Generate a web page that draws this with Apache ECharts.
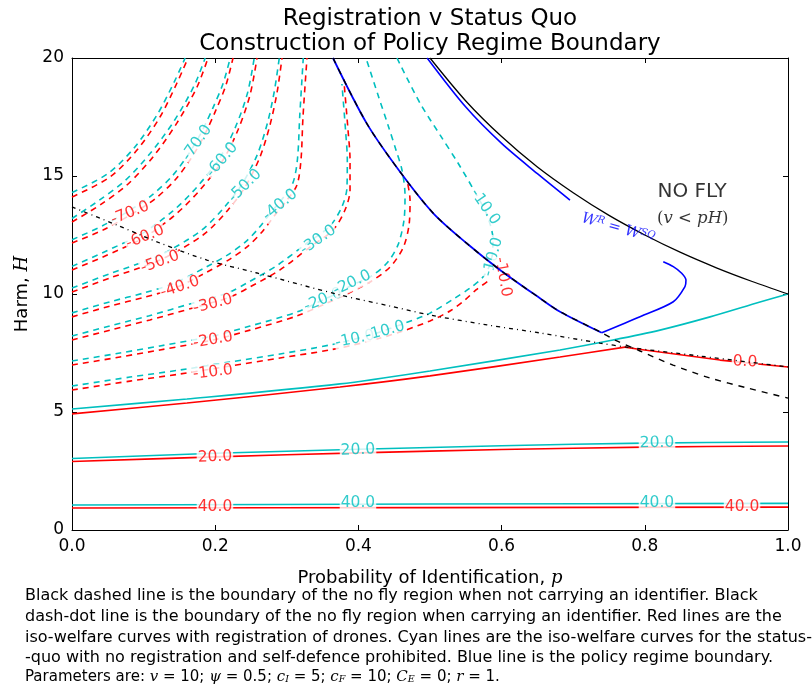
<!DOCTYPE html>
<html><head><meta charset="utf-8">
<script src="https://cdn.jsdelivr.net/npm/echarts@6/dist/echarts.min.js"></script>
<style>html,body{margin:0;padding:0;background:#fff}#c{width:812px;height:688px}</style>
</head><body><div id="c"></div>
<script>
// ---------- data (p = probability of identification, H = harm) ----------
const xTicks = [0, 0.2, 0.4, 0.6, 0.8, 1.0];
const yTicks = [0, 5, 10, 15, 20];

// iso-welfare curves WITH registration (red, dashed = negative levels)
const red90 = [[0,14.11],[0.0531,14.96],[0.0908,16.10],[0.1229,17.50],[0.1466,18.94],[0.162,20]];
const red80 = [[0,13.05],[0.0391,13.77],[0.0768,14.62],[0.1131,15.81],[0.1466,17.25],[0.1746,18.77],[0.19,20]];
const red70 = [[0,12.16],[0.0433,12.71],[0.0838,13.39],[0.1159,14.03],[0.1439,14.83],[0.1648,15.68],[0.183,16.61],[0.2011,17.80],[0.2151,18.86],[0.2249,20]];
const red60 = [[0,11.02],[0.0433,11.57],[0.0992,12.37],[0.1439,13.35],[0.1788,14.41],[0.2109,15.68],[0.2318,16.95],[0.2486,18.43],[0.2584,20]];
const red50 = [[0,10.08],[0.0531,10.68],[0.1229,11.44],[0.183,12.50],[0.2179,13.56],[0.2416,14.53],[0.2626,15.81],[0.2765,17.16],[0.2863,18.52],[0.2933,20]];
const red40 = [[0,9.03],[0.0531,9.49],[0.102,9.87],[0.1439,10.25],[0.1885,10.93],[0.2207,11.48],[0.2458,12.03],[0.2654,12.63],[0.2835,13.35],[0.3003,13.98],[0.3142,14.62],[0.3198,15.68],[0.3226,17.50],[0.3282,20]];
const red30 = [[0,8.05],[0.0531,8.47],[0.1089,8.90],[0.169,9.41],[0.2207,9.87],[0.2486,10.30],[0.2905,11.02],[0.3324,11.99],[0.3645,12.71],[0.3813,13.56],[0.3883,14.41],[0.3883,15.68],[0.3855,16.95],[0.3799,18.98]];
const red20 = [[0,6.99],[0.067,7.33],[0.1229,7.63],[0.1969,8.05],[0.2486,8.47],[0.3142,9.07],[0.3534,9.58],[0.3813,9.96],[0.4162,10.51],[0.4441,11.14],[0.4623,11.95],[0.4707,12.92],[0.4721,13.98],[0.4679,14.83]];
const red10 = [[0,5.93],[0.081,6.31],[0.1508,6.61],[0.2207,6.95],[0.2905,7.29],[0.3603,7.63],[0.4162,8.01],[0.4581,8.39],[0.5,8.86],[0.5279,9.28],[0.5489,9.75],[0.5642,10.17],[0.581,10.55]];
const red0a = [[0,4.92],[0.1606,5.38],[0.3743,6.06],[0.5,6.53],[0.6816,7.33],[0.7723,7.75]];
const red0b = [[0.7723,7.75],[0.7891,7.67],[0.905,7.20],[1,6.91]];
const redP20 = [[0,2.90],[0.2,3.10],[0.4,3.27],[0.6,3.41],[0.8,3.51],[1,3.56]];
const redP40 = [[0,0.93],[0.5,0.95],[1,0.97]];

// iso-welfare curves for the status quo (cyan)
const cyan90 = [[0,14.3],[0.05,15.1],[0.087,16.2],[0.119,17.6],[0.143,19.0],[0.158,20]];
const cyan80 = [[0,13.2],[0.037,13.95],[0.074,14.8],[0.109,15.95],[0.143,17.35],[0.171,18.85],[0.186,20]];
const cyan70 = [[0,12.3],[0.042,12.88],[0.081,13.55],[0.112,14.2],[0.14,15.0],[0.161,15.85],[0.179,16.75],[0.197,17.9],[0.211,18.92],[0.221,20]];
const cyan60 = [[0,11.17],[0.042,11.74],[0.097,12.55],[0.141,13.52],[0.175,14.55],[0.207,15.8],[0.228,17.05],[0.245,18.5],[0.2545,20]];
const cyan50 = [[0,10.25],[0.052,10.85],[0.121,11.62],[0.18,12.68],[0.214,13.72],[0.238,14.68],[0.259,15.92],[0.273,17.25],[0.2825,18.58],[0.2895,20]];
const cyan40 = [[0,9.2],[0.053,9.67],[0.101,10.05],[0.142,10.45],[0.186,11.12],[0.217,11.65],[0.242,12.2],[0.261,12.8],[0.279,13.5],[0.296,14.12],[0.309,14.75],[0.315,15.75],[0.318,17.5],[0.323,20]];
const cyan30 = [[0,8.22],[0.053,8.65],[0.108,9.08],[0.167,9.6],[0.218,10.05],[0.245,10.48],[0.286,11.2],[0.328,12.15],[0.36,12.87],[0.377,13.7],[0.384,14.5],[0.3845,15.7],[0.382,16.95],[0.377,18.9]];
const cyan20 = [[0,7.16],[0.067,7.50],[0.1229,7.80],[0.1969,8.22],[0.2486,8.64],[0.3142,9.24],[0.3506,9.75],[0.3743,10.08],[0.3911,10.38],[0.4162,10.72],[0.4399,11.31],[0.4553,12.08],[0.4637,13.14],[0.4651,14.19],[0.4609,15.25],[0.4525,16.10],[0.4413,17.16],[0.4274,18.43],[0.4106,20]];
const cyan10 = [[0,6.10],[0.081,6.48],[0.1508,6.78],[0.2207,7.12],[0.2905,7.46],[0.3603,7.84],[0.4162,8.26],[0.4581,8.69],[0.5,9.19],[0.5349,9.83],[0.5559,10.25],[0.574,10.72],[0.5852,11.36],[0.588,12.29],[0.5796,13.35],[0.5628,14.32],[0.5391,15.55],[0.514,16.74],[0.486,18.09],[0.4539,20]];
const cyan0 = [[0,5.13],[0.1606,5.55],[0.3743,6.19],[0.5,6.74],[0.6816,7.63],[0.7556,8.05],[0.8212,8.47],[0.8911,9.03],[0.9609,9.66],[1,10]];
const cyanP20 = [[0,3.03],[0.2,3.25],[0.4,3.42],[0.6,3.57],[0.8,3.68],[1,3.73]];
const cyanP40 = [[0,1.06],[0.5,1.10],[1,1.13]];

// boundaries
const noFlyBoundary = [[0.5,20],[0.55,18.18],[0.6,16.67],[0.65,15.38],[0.7,14.29],[0.75,13.33],[0.8,12.5],[0.85,11.76],[0.9,11.11],[0.95,10.53],[1,10]];
const noIdBoundary = [[0.3645,20],[0.4116,17.23],[0.4581,15.18],[0.5046,13.42],[0.5512,12.15],[0.5978,11.02],[0.6536,9.82],[0.6816,9.25],[0.7398,8.36],[0.7584,8.05],[0.7933,7.585],[0.8394,6.99],[0.8911,6.44],[0.9427,6.02],[1,5.59]];
const withIdBoundary = [[0,13.69],[0.0628,12.92],[0.1229,12.16],[0.1885,11.44],[0.2584,10.89],[0.3743,9.96],[0.4441,9.49],[0.5,9.11],[0.5796,8.69],[0.6536,8.35],[0.7374,7.92],[0.7751,7.75],[0.8771,7.37],[1,6.91]];
const policyUpper = [[0.496,20],[0.55,17.92],[0.6,16.38],[0.65,15.1],[0.6955,13.98]];
const policyLowerA = [[0.3645,20],[0.4116,17.23],[0.4581,15.18],[0.5046,13.42],[0.5512,12.15],[0.5978,11.02],[0.6536,9.82],[0.6816,9.25],[0.7398,8.36]];
const policyLowerB = [[0.7398,8.36],[0.7933,9.04],[0.8398,9.67],[0.8561,10.31],[0.8575,10.59],[0.8515,10.88],[0.8398,11.16],[0.8258,11.37]];

// contour labels [p, H, text, rotation]
const cyanLabels = [[0.1746,16.40,'-70.0',55],[0.2095,15.68,'-60.0',50],[0.2416,14.58,'-50.0',45],[0.2905,13.77,'-40.0',40],[0.3436,12.29,'-30.0',35],[0.3506,9.75,'-20.0',22],[0.3911,10.47,'-20.0',25],[0.3953,8.09,'-10.0',12],[0.4372,8.43,'-10.0',15],[0.5768,13.69,'-10.0',-55],[0.588,11.57,'-10.0',75],[0.3994,3.39,'20.0',2],[0.817,3.69,'20.0',1],[0.3994,1.14,'40.0',0],[0.817,1.14,'40.0',0]];
const redLabels = [[0.081,13.43,'-70.0',22],[0.102,12.42,'-60.0',22],[0.1229,11.36,'-50.0',20],[0.1508,10.30,'-40.0',18],[0.1969,9.58,'-30.0',14],[0.1969,8.05,'-20.0',10],[0.1969,6.69,'-10.0',7],[0.602,10.72,'-10.0',-80],[0.94,7.12,'0.0',-3],[0.1997,3.09,'20.0',2],[0.1997,0.97,'40.0',0],[0.9358,0.97,'40.0',0]];

// ---------- chart ----------
const FONT = 'DejaVu Sans';
const CYAN = '#00BFBF', RED = '#FF0000', BLUE = '#0000FF', BLACK = '#000000';
const DASH = [6, 5];

function line(data, color, width, type, z, smooth) {
  return {type: 'line', data: data, showSymbol: false, symbol: 'none', silent: true,
    smooth: smooth === undefined ? 0.3 : smooth, z: z,
    lineStyle: {color: color, width: width, type: type}};
}
function labels(list, color) {
  return {type: 'scatter', symbolSize: 1, silent: true, z: 3,
    itemStyle: {color: 'rgba(0,0,0,0)'},
    data: list.map(d => ({value: [d[0], d[1]], name: d[2], label: {rotate: d[3]}})),
    label: {show: true, position: 'inside', formatter: p => p.name, color: color,
      fontSize: 15.5, fontFamily: FONT, backgroundColor: '#ffffff', padding: [0, 1]}};
}

const series = [];
[red90, red80, red70, red60, red50, red40, red30, red20, red10].forEach(d => series.push(line(d, RED, 1.6, DASH, 2)));
[cyan90, cyan80, cyan70, cyan60, cyan50, cyan40, cyan30, cyan20, cyan10].forEach(d => series.push(line(d, CYAN, 1.6, DASH, 2)));
series.push(line(cyan0, CYAN, 1.6, 'solid', 2));
series.push(line(cyanP20, CYAN, 1.6, 'solid', 2));
series.push(line(cyanP40, CYAN, 1.6, 'solid', 2));
series.push(line(red0a, RED, 1.6, 'solid', 2));
series.push(line(red0b, RED, 1.6, 'solid', 2, false));
series.push(line(redP20, RED, 1.6, 'solid', 2));
series.push(line(redP40, RED, 1.6, 'solid', 2));
series.push(labels(cyanLabels, CYAN));
series.push(labels(redLabels, RED));
series.push(line(policyUpper, BLUE, 1.6, 'solid', 4));
series.push(line(policyLowerA, BLUE, 1.8, 'solid', 4));
series.push(line(policyLowerB, BLUE, 1.6, 'solid', 4));
series.push(line(noFlyBoundary, BLACK, 1.3, 'solid', 5));
series.push(line(noIdBoundary, BLACK, 1.4, [6, 6], 5));
series.push(line(withIdBoundary, BLACK, 1.3, [4, 4, 1, 4], 5));
// text annotations
series.push({type: 'scatter', symbolSize: 1, silent: true, z: 6, itemStyle: {color: 'rgba(0,0,0,0)'},
  data: [
    {value: [0.866, 14.32], label: {formatter: 'NO FLY', fontSize: 20, fontFamily: FONT, color: BLACK}},
    {value: [0.867, 13.18], label: {formatter: '({i|v} < {i|pH})', fontSize: 16.5, fontFamily: 'DejaVu Serif', color: BLACK,
      rich: {i: {fontStyle: 'italic', fontFamily: 'DejaVu Serif', fontSize: 16.5, color: BLACK}}}},
    {value: [0.7626, 12.78], label: {rotate: -16, formatter: '{w|W}{s|R}{w| = W}{s|SQ}', color: BLUE,
      rich: {w: {fontStyle: 'italic', fontFamily: 'DejaVu Serif', fontSize: 15, color: BLUE},
             s: {fontStyle: 'italic', fontFamily: 'DejaVu Serif', fontSize: 10, color: BLUE, verticalAlign: 'top', padding: [0, 0, 6, 0]}}}}
  ],
  label: {show: true, position: 'inside'}});

const axisCommon = {
  axisLine: {show: true, onZero: false, lineStyle: {color: BLACK, width: 1}},
  axisTick: {show: true, inside: true, length: 5, lineStyle: {color: BLACK, width: 1}},
  splitLine: {show: false}
};
const lblStyle = {fontSize: 17, fontFamily: FONT, color: BLACK, margin: 8, showMinLabel: true, showMaxLabel: true};
const nameStyle = {fontSize: 18, fontFamily: FONT, color: BLACK,
  rich: {i: {fontStyle: 'italic', fontFamily: 'DejaVu Serif', fontSize: 18, color: BLACK}}};
const capStyle = {fontSize: 16, fontFamily: FONT, fill: BLACK, verticalAlign: 'top'};

const option = {
  animation: false,
  backgroundColor: '#ffffff',
  title: {text: 'Registration v Status Quo\nConstruction of Policy Regime Boundary', left: 430, top: 7,
    textAlign: 'center', padding: 0,
    textStyle: {fontSize: 23, fontWeight: 'normal', fontFamily: FONT, color: BLACK, lineHeight: 25}},
  grid: {left: 72, top: 58, right: 24, bottom: 158, containLabel: false},
  xAxis: [
    Object.assign({type: 'value', min: xTicks[0], max: xTicks[xTicks.length - 1], interval: 0.2, position: 'bottom',
      axisLabel: Object.assign({formatter: v => v.toFixed(1)}, lblStyle),
      name: 'Probability of Identification, {i|p}', nameLocation: 'middle', nameGap: 39,
      nameTextStyle: nameStyle}, axisCommon),
    Object.assign({type: 'value', min: xTicks[0], max: xTicks[xTicks.length - 1], interval: 0.2, position: 'top',
      axisLabel: {show: false}}, axisCommon)
  ],
  yAxis: [
    Object.assign({type: 'value', min: yTicks[0], max: yTicks[yTicks.length - 1], interval: 5, position: 'left',
      axisLabel: Object.assign({formatter: v => String(v)}, lblStyle),
      name: 'Harm, {i|H}', nameLocation: 'middle', nameGap: 35,
      nameTextStyle: nameStyle}, axisCommon),
    Object.assign({type: 'value', min: yTicks[0], max: yTicks[yTicks.length - 1], interval: 5, position: 'right',
      axisLabel: {show: false}}, axisCommon)
  ],
  series: series,
  graphic: [
    {type: 'text', x: 25, y: 588, style: Object.assign({text: 'Black dashed line is the boundary of the no fly region when not carrying an identifier. Black'}, capStyle)},
    {type: 'text', x: 25, y: 609, style: Object.assign({text: 'dash-dot line is the boundary of the no fly region when carrying an identifier. Red lines are the'}, capStyle)},
    {type: 'text', x: 25, y: 630, style: Object.assign({text: 'iso-welfare curves with registration of drones. Cyan lines are the iso-welfare curves for the status-'}, capStyle)},
    {type: 'text', x: 25, y: 650, style: Object.assign({text: '-quo with no registration and self-defence prohibited. Blue line is the policy regime boundary.'}, capStyle)},
    {type: 'text', x: 25, y: 670, style: {
      text: 'Parameters are: {m|v}{n| = 10; }{m|ψ}{n| = 0.5; }{m|c}{s|I}{n| = 5; }{m|c}{s|F}{n| = 10; }{m|C}{s|E}{n| = 0; }{m|r}{n| = 1.}',
      fontSize: 15, fontFamily: FONT, fill: BLACK, verticalAlign: 'top',
      rich: {
        n: {fontSize: 15, fontFamily: FONT, fill: BLACK, color: BLACK},
        m: {fontSize: 15, fontFamily: 'DejaVu Serif', fontStyle: 'italic', fill: BLACK, color: BLACK},
        s: {fontSize: 9.5, fontFamily: 'DejaVu Serif', fontStyle: 'italic', fill: BLACK, color: BLACK, verticalAlign: 'bottom'}
      }}}
  ]
};
const chart = echarts.init(document.getElementById('c'));
chart.setOption(option);
</script>
</body></html>
